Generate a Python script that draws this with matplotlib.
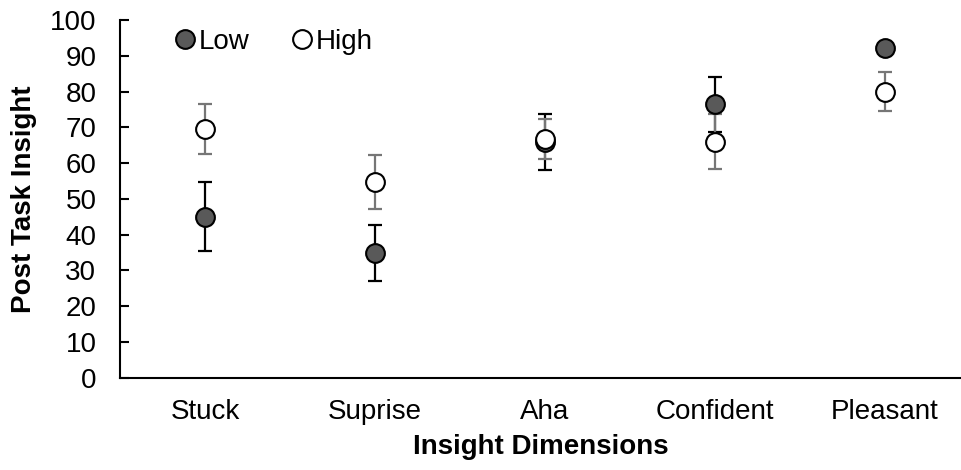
import matplotlib
matplotlib.use("Agg")
import matplotlib.pyplot as plt
from matplotlib.lines import Line2D
import numpy as np

plt.rcParams["font.family"] = ["Liberation Sans", "DejaVu Sans"]

# данные
categories = ["Stuck", "Suprise", "Aha", "Confident", "Pleasant"]
low = [45.0, 34.8, 66.0, 76.4, 92.1]
low_err = [9.6, 7.75, 7.8, 7.6, 1.0]
high = [69.5, 54.8, 66.7, 66.0, 80.0]
high_err = [7.0, 7.5, 5.6, 7.7, 5.5]
yticks = list(range(0, 101, 10))

low_face = "#595959"
high_bar = "#767676"
fs = 20

fig = plt.figure(figsize=(9.62, 4.70), dpi=100)
ax = fig.add_axes([120 / 962, 1 - 377.7 / 470, 842 / 962, 357.7 / 470])

x = np.arange(len(categories))

# сначала усы, потом маркеры
ax.errorbar(x, low, yerr=low_err, fmt="none", ecolor="black",
            elinewidth=1.6, capsize=4.7, capthick=1.6, zorder=2)
ax.errorbar(x, high, yerr=high_err, fmt="none", ecolor=high_bar,
            elinewidth=1.6, capsize=4.7, capthick=1.6, zorder=2)
ax.plot(x, low, linestyle="none", marker="o", markersize=13.5,
        markerfacecolor=low_face, markeredgecolor="black",
        markeredgewidth=1.5, zorder=3)
ax.plot(x, high, linestyle="none", marker="o", markersize=13.5,
        markerfacecolor="white", markeredgecolor="black",
        markeredgewidth=1.5, zorder=4)

ax.set_xlim(-0.5, -0.5 + 842 / 170)
ax.set_ylim(0, 100)
ax.set_yticks(yticks)
ax.set_xticks(x)
ax.set_xticklabels(categories)

ax.spines["top"].set_visible(False)
ax.spines["right"].set_visible(False)
ax.spines["left"].set_linewidth(1.5)
ax.spines["bottom"].set_linewidth(1.5)

ax.tick_params(axis="y", direction="in", length=6.5, width=1.5,
               labelsize=fs, pad=17)
ax.tick_params(axis="x", length=0, labelsize=fs, pad=15)

ax.set_ylabel("Post Task Insight", fontsize=fs, fontweight="bold", labelpad=9)
ax.set_xlabel("Insight Dimensions", fontsize=fs, fontweight="bold", labelpad=6.5)

handles = [
    Line2D([], [], linestyle="none", marker="o", markersize=13.5,
           markerfacecolor=low_face, markeredgecolor="black", markeredgewidth=1.5),
    Line2D([], [], linestyle="none", marker="o", markersize=13.5,
           markerfacecolor="white", markeredgecolor="black", markeredgewidth=1.5),
]
ax.legend(handles, ["Low", "High"], loc="upper left", bbox_to_anchor=(0.065, 0.975),
          ncol=2, frameon=False, fontsize=fs, handlelength=0.75,
          handletextpad=0.12, columnspacing=1.5, borderpad=0, borderaxespad=0)

fig.savefig("out.png", dpi=100)
